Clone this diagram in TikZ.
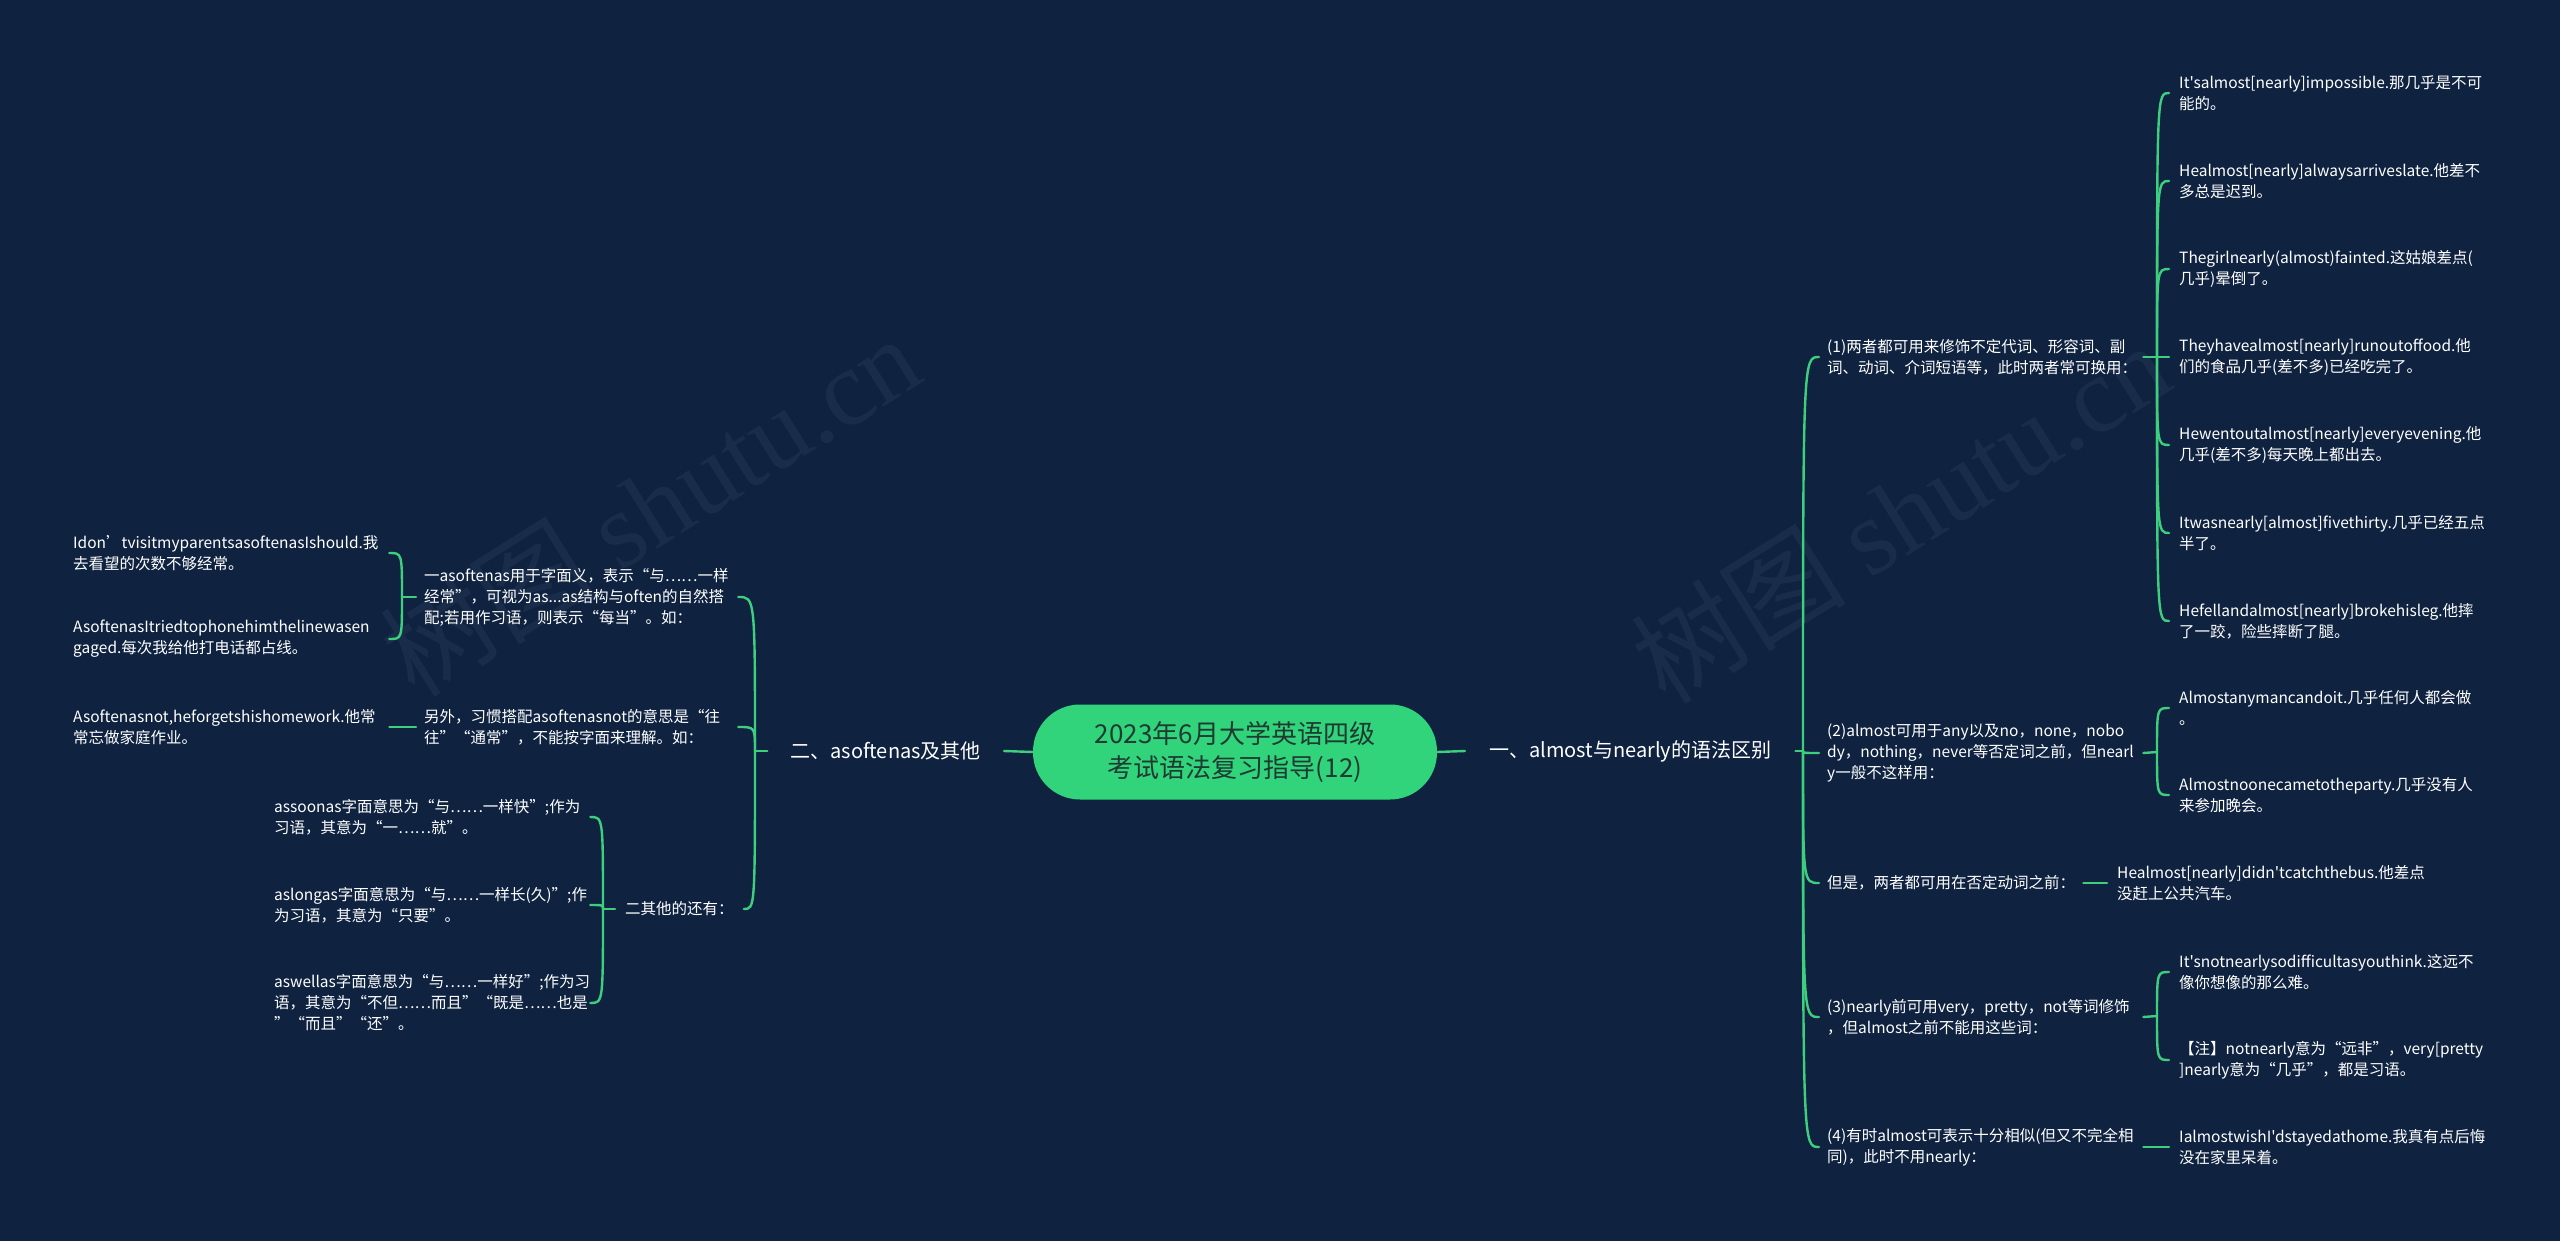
\documentclass[tikz,border=0pt]{standalone}
\usepackage{fontspec}
\setmainfont{Noto Sans CJK SC}[Ligatures=TeXOff]
\newfontfamily\wmfont{Liberation Serif}
\definecolor{bg}{HTML}{0F2341}
\definecolor{lg}{HTML}{3DCF7E}
\definecolor{rootg}{HTML}{31D47A}
\definecolor{roottext}{HTML}{1E3A33}
\tikzset{
  conn/.style={draw=lg, line width=2.4pt, line cap=round},
  txt/.style={text=white, font=\fontsize{15.5}{21}\selectfont, align=left, inner xsep=10pt, inner ysep=2pt},
  rleaf/.style={txt, anchor=west},
  lleaf/.style={txt, anchor=west, text width=306pt},
  midbox/.style={txt, anchor=west, inner xsep=8pt},
  branch/.style={text=white, font=\fontsize{20}{26}\selectfont, inner ysep=4pt},
  rootbox/.style={fill=rootg, text=roottext, rounded corners=47pt, minimum width=404pt, minimum height=95pt, align=center, font=\fontsize{26}{34}\selectfont, inner sep=0pt},
  wm/.style={text=white, text opacity=0.045, font=\fontsize{108}{108}\selectfont}
}
\begin{document}
\lefthyphenmin=64
\begin{tikzpicture}[x=1pt,y=-1pt]
\useasboundingbox (0,0) rectangle (2560,1241);
\fill[bg] (0,0) rectangle (2560,1241);
% watermarks
\node[wm, rotate=32] (wm1) at (650,505) {树图 {\wmfont shutu.cn}};
\node[wm, rotate=32] (wm2) at (1900,512) {树图 {\wmfont shutu.cn}};

% root and branches
\node[rootbox] (R) at (1235,752) {2023年6月大学英语四级\\考试语法复习指导(12)};
\node[branch, anchor=west, inner xsep=24pt] (B1) at (1465,751) {一、almost与nearly的语法区别};
\node[branch, anchor=east, inner xsep=23pt] (B2) at (1004,751) {二、asoftenas及其他};
\draw[conn] (R.east) -- (B1.west);
\draw[conn] (R.west) -- (B2.east);

% right level 2
\coordinate (J1) at (1803,751);
\node[midbox, text width=308pt] (n1) at (1819,357) {(1)两者都可用来修饰不定代词、形容词、副\\词、动词、介词短语等，此时两者常可换用：};
\node[midbox, text width=308pt] (n2) at (1819,753) {(2)almost可用于any以及no，none，nobo\\dy，nothing，never等否定词之前，但nearl\\y一般不这样用：};
\node[midbox] (n3) at (1819,883) {但是，两者都可用在否定动词之前：};
\node[midbox, text width=308pt] (n4) at (1819,1017) {(3)nearly前可用very，pretty，not等词修饰\\，但almost之前不能用这些词：};
\node[midbox, text width=308pt] (n5) at (1819,1147) {(4)有时almost可表示十分相似(但又不完全相\\同)，此时不用nearly：};
\draw[conn] (B1.east) -- (J1);
\foreach \n in {n1,n2,n3,n4,n5}{
  \draw[conn] (J1) .. controls (J1 |- \n.west) .. (\n.west);
}

% right level 3 under n1
\coordinate (J2) at (2157,357);
\node[rleaf] (c1) at (2169,93) {It'salmost[nearly]impossible.那几乎是不可\\能的。};
\node[rleaf] (c2) at (2169,181) {Healmost[nearly]alwaysarriveslate.他差不\\多总是迟到。};
\node[rleaf] (c3) at (2169,269) {Thegirlnearly(almost)fainted.这姑娘差点(\\几乎)晕倒了。};
\node[rleaf] (c4) at (2169,357) {Theyhavealmost[nearly]runoutoffood.他\\们的食品几乎(差不多)已经吃完了。};
\node[rleaf] (c5) at (2169,445) {Hewentoutalmost[nearly]everyevening.他\\几乎(差不多)每天晚上都出去。};
\node[rleaf] (c6) at (2169,533) {Itwasnearly[almost]fivethirty.几乎已经五点\\半了。};
\node[rleaf] (c7) at (2169,621) {Hefellandalmost[nearly]brokehisleg.他摔\\了一跤，险些摔断了腿。};
\draw[conn] (n1.east) -- (J2);
\foreach \n in {c1,c2,c3,c4,c5,c6,c7}{
  \draw[conn] (J2) .. controls (J2 |- \n.west) .. (\n.west);
}

% under n2
\coordinate (J3) at (2157,752);
\node[rleaf] (d1) at (2169,708) {Almostanymancandoit.几乎任何人都会做\\。};
\node[rleaf] (d2) at (2169,795) {Almostnoonecametotheparty.几乎没有人\\来参加晚会。};
\draw[conn] (n2.east) -- (J3);
\foreach \n in {d1,d2}{
  \draw[conn] (J3) .. controls (J3 |- \n.west) .. (\n.west);
}

% under n3
\node[rleaf] (e1) at (2107,883) {Healmost[nearly]didn'tcatchthebus.他差点\\没赶上公共汽车。};
\draw[conn] (n3.east) -- (e1.west);

% under n4
\coordinate (J4) at (2157,1016);
\node[rleaf] (f1) at (2169,972) {It'snotnearlysodifficultasyouthink.这远不\\像你想像的那么难。};
\node[rleaf] (f2) at (2169,1060) {【注】notnearly意为“远非”，very[pretty\\]nearly意为“几乎”，都是习语。};
\draw[conn] (n4.east) -- (J4);
\foreach \n in {f1,f2}{
  \draw[conn] (J4) .. controls (J4 |- \n.west) .. (\n.west);
}

% under n5
\node[rleaf] (g1) at (2169,1147) {IalmostwishI'dstayedathome.我真有点后悔\\没在家里呆着。};
\draw[conn] (n5.east) -- (g1.west);

% left level 2
\coordinate (J5) at (755,751);
\node[midbox, text width=306pt] (L1) at (416,597) {一asoftenas用于字面义，表示“与……一样\\经常”，可视为as...as结构与often的自然搭\\配;若用作习语，则表示“每当”。如：};
\node[midbox, text width=306pt] (L2) at (416,727) {另外，习惯搭配asoftenasnot的意思是“往\\往”“通常”，不能按字面来理解。如：};
\node[txt, anchor=west] (L3) at (615,909) {二其他的还有：};
\draw[conn] (B2.west) -- (J5);
\foreach \n in {L1,L2,L3}{
  \draw[conn] (J5) .. controls (J5 |- \n.east) .. (\n.east);
}

% under L1
\coordinate (J6) at (402,597);
\node[lleaf] (h1) at (63,553) {Idon’tvisitmyparentsasoftenasIshould.我\\去看望的次数不够经常。};
\node[lleaf] (h2) at (63,639) {AsoftenasItriedtophonehimthelinewasen\\gaged.每次我给他打电话都占线。};
\draw[conn] (L1.west) -- (J6);
\foreach \n in {h1,h2}{
  \draw[conn] (J6) .. controls (J6 |- \n.east) .. (\n.east);
}

% under L2
\node[lleaf] (i1) at (63,727) {Asoftenasnot,heforgetshishomework.他常\\常忘做家庭作业。};
\draw[conn] (L2.west) -- (i1.east);

% under L3
\coordinate (J7) at (603,909);
\node[lleaf] (j1) at (264,817) {assoonas字面意思为“与……一样快”;作为\\习语，其意为“一……就”。};
\node[lleaf] (j2) at (264,905) {aslongas字面意思为“与……一样长(久)”;作\\为习语，其意为“只要”。};
\node[lleaf] (j3) at (264,1003) {aswellas字面意思为“与……一样好”;作为习\\语，其意为“不但……而且”“既是……也是\\”“而且”“还”。};
\draw[conn] (L3.west) -- (J7);
\foreach \n in {j1,j2,j3}{
  \draw[conn] (J7) .. controls (J7 |- \n.east) .. (\n.east);
}
\end{tikzpicture}
\end{document}
